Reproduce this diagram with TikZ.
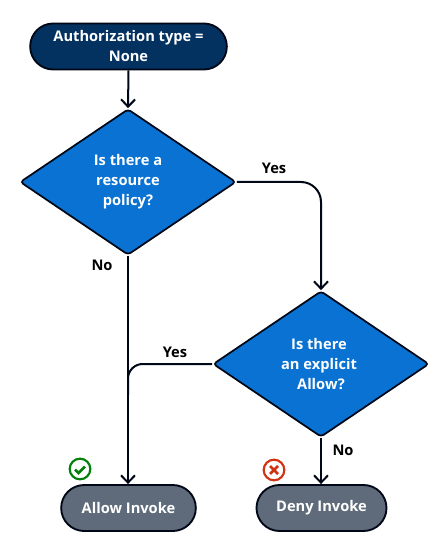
\documentclass[tikz,border=0pt]{standalone}
\usepackage{fontspec}
\setmainfont{Open Sans}
\usetikzlibrary{shapes.geometric,shapes.misc,arrows.meta}
\definecolor{ink}{HTML}{000716}
\definecolor{navy}{HTML}{033160}
\definecolor{blue}{HTML}{0972D3}
\definecolor{slatebox}{HTML}{5F6B7A}
\definecolor{okgreen}{HTML}{037F0C}
\definecolor{badred}{HTML}{D13212}
\tikzset{
  x=0.75pt,y=-0.75pt,
  conn/.style={draw=ink,line width=1.5pt,-{Straight Barb[length=5.5pt,width=10.5pt,line width=1.5pt]}},
  pill/.style={rounded rectangle,draw=ink,line width=1.4pt,text=white,font=\fontsize{11pt}{15pt}\selectfont\bfseries,align=center,inner sep=0pt},
  deci/.style={diamond,draw=ink,line width=1.3pt,fill=blue,text=white,shape aspect=1.486,minimum width=162pt,minimum height=109.5pt,inner sep=0pt,rounded corners=2.5pt,font=\fontsize{11pt}{15pt}\selectfont\bfseries,align=center},
  lab/.style={text=black,font=\fontsize{11pt}{13pt}\selectfont\bfseries,inner sep=0pt},
  iconring/.style={circle,line width=1.6pt,minimum size=15.5pt,inner sep=0pt}
}
\begin{document}
\begin{tikzpicture}
\useasboundingbox (0,0) rectangle (444,548);
\node[pill,fill=navy,minimum width=147.5pt,minimum height=34.5pt] (start) at (128.5,46.5) {Authorization type =\\None};
\node[deci] (d1) at (128,182) {Is there a\\resource\\policy?};
\node[deci] (d2) at (321,364) {\mbox{Is there\kern3pt}\\\mbox{an explicit\kern3pt}\\Allow?};
\node[pill,fill=slatebox,minimum width=101pt,minimum height=34.5pt] (allow) at (128.5,508) {Allow Invoke};
\node[pill,fill=slatebox,minimum width=97.5pt,minimum height=34.5pt] (deny) at (321.5,508) {Deny Invoke};
\draw[conn] (start.south) -- (d1.north);
\draw[conn] (d1.south) -- (d1.south |- allow.north);
\draw[conn] (d2.south) -- (d2.south |- deny.north);
\draw[conn,rounded corners=15pt] (d1.east) -| (d2.north);
\coordinate (joint) at (128,395);
\draw[draw=ink,line width=1.5pt,rounded corners=11pt] (d2.west) -| (joint);
\node[lab] (y1) at (274,168.5) {Yes};
\node[lab] (n1) at (102,265) {No};
\node[lab] (y2) at (175,352) {Yes};
\node[lab] (n2) at (343,450) {No};
\node[iconring,draw=okgreen] (ok) at (80,469) {};
\draw[okgreen,line width=1.9pt] ([shift={(-5,0.5)}]ok.center) -- ++(3.5,3.5) -- ++(6.5,-6.5);
\node[iconring,draw=badred] (bad) at (274,470) {};
\draw[badred,line width=1.9pt] ([shift={(-4,-4)}]bad.center) -- ++(8,8) ([shift={(4,-4)}]bad.center) -- ++(-8,8);
\end{tikzpicture}
\end{document}
